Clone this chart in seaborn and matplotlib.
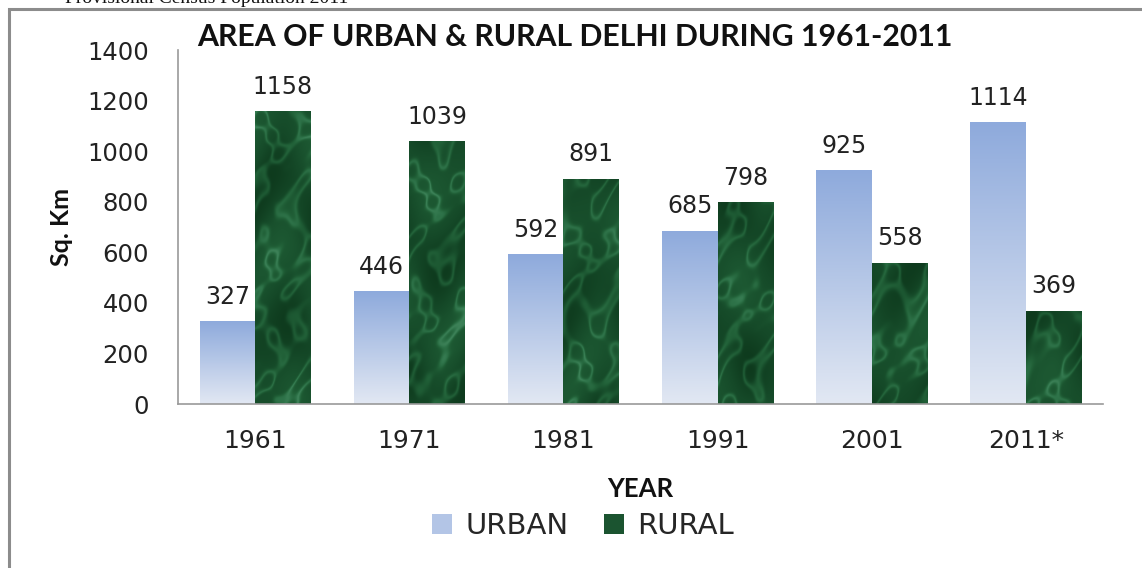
import numpy as np
import pandas as pd
import matplotlib
matplotlib.use("Agg")
import matplotlib.pyplot as plt
import seaborn as sns
from matplotlib.patches import Rectangle, Patch
from matplotlib.colors import LinearSegmentedColormap

years = ["1961", "1971", "1981", "1991", "2001", "2011*"]
urban = [327, 446, 592, 685, 925, 1114]
rural = [1158, 1039, 891, 798, 558, 369]
series = ["URBAN", "RURAL"]
yticks = [0, 200, 400, 600, 800, 1000, 1200, 1400]

df = pd.DataFrame({
    "Year": years * 2,
    "Area": urban + rural,
    "Series": [series[0]] * len(years) + [series[1]] * len(years),
})

sns.set_theme(style="white")
plt.rcParams["font.family"] = ["DejaVu Sans"]

W, H = 1142, 568
fig = plt.figure(figsize=(W / 100, H / 100), dpi=100)
fig.patch.set_facecolor("white")
ax = fig.add_axes([178 / W, 1 - 404 / H, (1103 - 178) / W, (404 - 50) / H])

urban_top, urban_bot = "#8eaadc", "#e2e8f3"
rural_col = "#1b5430"
sns.barplot(data=df, x="Year", y="Area", hue="Series", order=years,
            hue_order=series, palette=[urban_top, rural_col], width=0.72,
            saturation=1, legend=False, ax=ax, edgecolor="none")

ax.set_ylim(0, 1400)
ax.set_xlim(-0.5, len(years) - 0.5)
ax.set_yticks(yticks)
ax.set_yticklabels([str(v) for v in yticks], fontsize=17.5, color="#222222")
ax.tick_params(axis="y", pad=21, length=0)
ax.tick_params(axis="x", pad=18, length=0, labelsize=18, labelcolor="#222222")
for s in ["top", "right"]:
    ax.spines[s].set_visible(False)
for s in ["left", "bottom"]:
    ax.spines[s].set_color("#9a9a9a")
    ax.spines[s].set_linewidth(1.2)

ax.set_xlabel("YEAR", fontsize=18.5, fontweight="bold", family="Lato", labelpad=17, color="#111111")
ax.set_ylabel("Sq. Km", fontsize=18, fontweight="bold", family="Lato", labelpad=10, color="#111111")

# gradients / textures / labels
cmap_u = LinearSegmentedColormap.from_list("u", [urban_bot, urban_top])
cmap_r = LinearSegmentedColormap.from_list(
    "r", ["#0e3a1d", "#154928", "#1b5530", "#226239", "#2f744a", "#4c9067"])
grad = np.linspace(0, 1, 256).reshape(-1, 1)
ppu = 354 / 1400.0  # pixels per data unit (vertical)
bars = ax.patches
n = len(years)
for i, p in enumerate(bars[:2 * n]):
    x0, w, h = p.get_x(), p.get_width(), p.get_height()
    if i < n:
        arr, cm, lo, hi = grad, cmap_u, 0, 1
    else:
        ny, nx = max(int(h * ppu), 2), 56
        yy, xx = np.mgrid[0:ny, 0:nx].astype(float)
        xx = xx + 37 * i
        yy = yy + 53 * i
        f = (np.sin(0.17 * xx + 2.2 * np.sin(0.06 * yy + 0.3 * i))
             + np.sin(0.10 * yy + 1.8 * np.sin(0.13 * xx + 1.1 * i))
             + 0.6 * np.sin(0.21 * (xx - yy) + 1.5 * np.sin(0.05 * yy)))
        veins = np.exp(-((f - 0.9) ** 2) / 0.4)
        mott = 0.5 + 0.25 * np.sin(0.045 * yy + 0.9 * np.sin(0.07 * xx)) \
            + 0.15 * np.sin(0.09 * xx - 0.03 * yy)
        arr = 0.45 * veins + 0.55 * mott
        cm, lo, hi = cmap_r, 0.05, 1.05
    im = ax.imshow(arr, extent=[x0, x0 + w, 0, h], origin="lower", aspect="auto",
                   cmap=cm, zorder=p.get_zorder() + 0.1, vmin=lo, vmax=hi,
                   interpolation="bilinear")
    im.set_clip_path(p)
    ax.annotate(f"{int(round(h))}", (x0 + w / 2, h), xytext=(0, 9),
                textcoords="offset points", ha="center", va="bottom",
                fontsize=17, color="#222222")
ax.set_xlim(-0.5, len(years) - 0.5)
ax.set_ylim(0, 1400)

fig.text(197 / W, 1 - 37 / H, "AREA OF URBAN & RURAL DELHI DURING 1961-2011",
         fontsize=21.8, fontweight="bold", family="Lato", va="center", ha="left", color="#111111")

handles = [Patch(facecolor="#b3c5e6", edgecolor="none", label=series[0]),
           Patch(facecolor=rural_col, edgecolor="none", label=series[1])]
fig.legend(handles=handles, loc="center", bbox_to_anchor=(583 / W, 1 - 526 / H), ncol=2,
           frameon=False, fontsize=21, handlelength=0.7, handleheight=0.7,
           columnspacing=1.2, handletextpad=0.45)

# outer frame and cut-off header text
fig.patches.append(Rectangle((9 / W, -0.1), 1.2, 1.1 - 9 / H, transform=fig.transFigure,
                             fill=False, edgecolor="#8c8c8c", linewidth=2.2, zorder=10))
fig.text(65 / W, 1 - 3 / H, "Provisional Census Population 2011", fontsize=14,
         family="Liberation Serif", va="baseline", ha="left", color="#111111")

fig.savefig("out.png", dpi=100)
